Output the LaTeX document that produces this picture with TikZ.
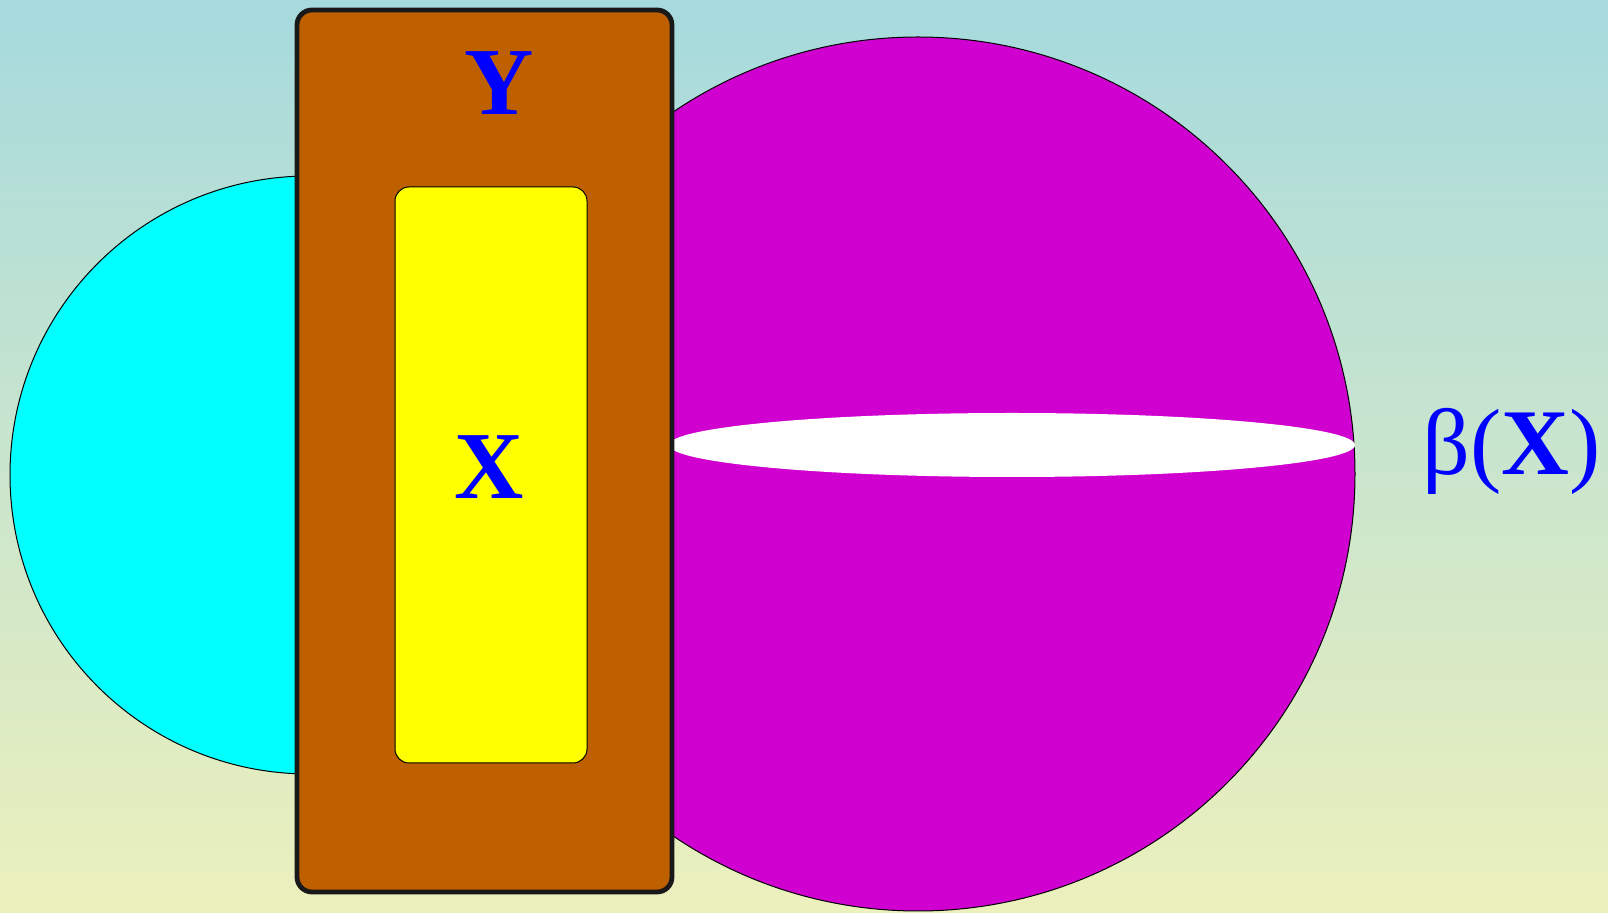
\documentclass[tikz,border=0pt]{standalone}
\usepackage{fontspec}
\setmainfont{Liberation Serif}
\usetikzlibrary{positioning}
\definecolor{bgTop}{HTML}{A6DADE}
\definecolor{bgBot}{HTML}{ECF0BC}
\definecolor{ballCyan}{HTML}{00FFFF}
\definecolor{ballMag}{HTML}{D000D0}
\definecolor{boxBrown}{HTML}{BF6000}
\definecolor{boxYellow}{HTML}{FFFF00}
\definecolor{labBlue}{HTML}{0000FF}
\tikzset{
  ball/.style={draw=black, line width=0.5pt},
  hole/.style={fill=white},
  outerbox/.style={fill=boxBrown, draw=black!90, line width=2.4pt, rounded corners=7.5pt},
  innerbox/.style={fill=boxYellow, draw=black, line width=0.5pt, rounded corners=7pt},
  setlabel/.style={text=labBlue, font=\fontsize{48}{58}\selectfont\bfseries, inner sep=0pt},
  maplabel/.style={text=labBlue, font=\fontsize{47}{56}\selectfont, inner sep=0pt}
}

\begin{document}
\begin{tikzpicture}[x=0.5pt, y=-0.5pt]
  % background
  \shade[top color=bgTop, bottom color=bgBot] (0,0) rectangle (1608,913);
  \useasboundingbox (0,0) rectangle (1608,913);
  % the two balls
  \filldraw[ball, fill=ballCyan] (309,475) circle (299);
  \filldraw[ball, fill=ballMag] (918,474) circle (437);
  \fill[hole] (1012,445) ellipse [x radius=343, y radius=32];
  % Y and X
  \draw[outerbox] (297,10) rectangle (672,892);
  \draw[innerbox] (395,187) rectangle (587,763);
  \node[setlabel] (ylab) at (499,83) {Y};
  \node[setlabel] (xlab) at (489,467) {X};
  \node[maplabel] (betalab) at (1512,451) {β(\textbf{X})};
\end{tikzpicture}
\end{document}
